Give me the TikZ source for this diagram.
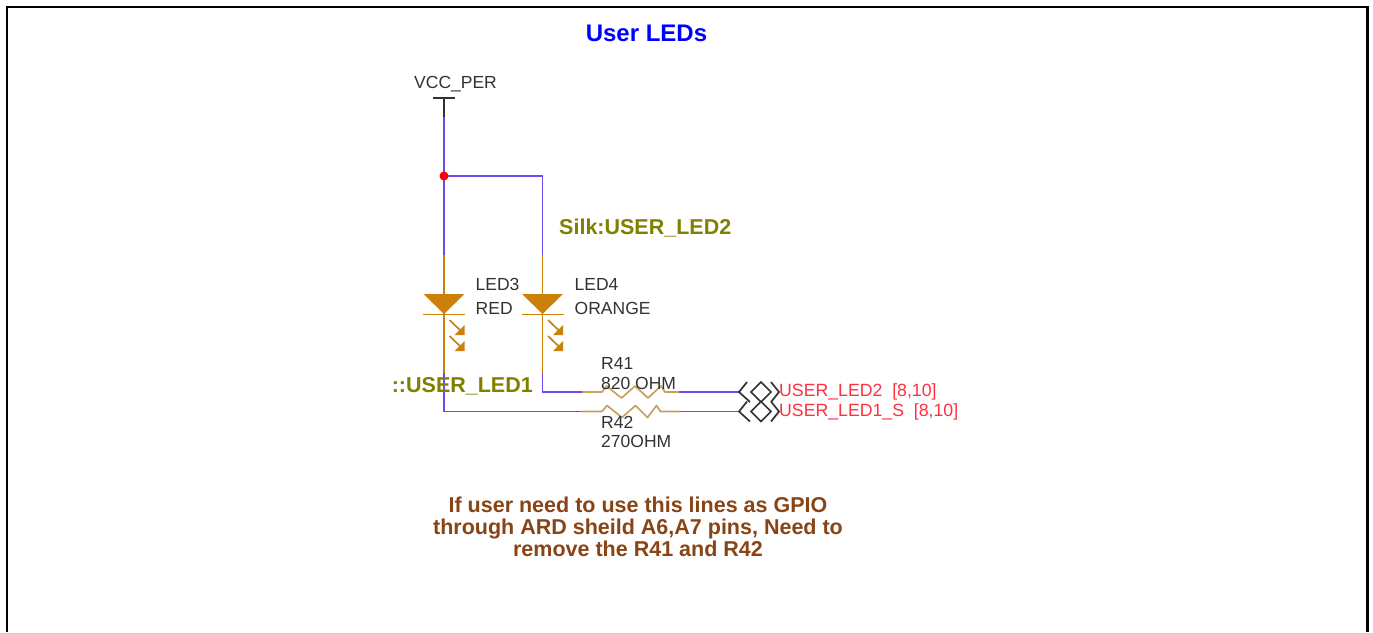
\documentclass[tikz,border=0pt]{standalone}
\usepackage{fontspec}
\setmainfont{Liberation Sans}
\usetikzlibrary{calc}

\definecolor{wirecol}{RGB}{112,72,240}
\definecolor{ledcol}{RGB}{204,128,10}
\definecolor{pincol}{RGB}{200,160,96}
\definecolor{silkcol}{RGB}{128,128,0}
\definecolor{netcol}{RGB}{255,48,64}
\definecolor{notecol}{RGB}{136,68,20}
\definecolor{partcol}{RGB}{50,50,50}

\tikzset{
  wire/.style={wirecol, line width=1.7pt},
  pinwire/.style={ledcol, line width=1.7pt},
  respin/.style={pincol, line width=1.7pt, line join=round},
  offpage/.style={partcol, line width=1.7pt},
  partlabel/.style={font=\fontsize{17.5}{19}\selectfont, text=partcol, inner sep=0pt, anchor=west},
  silklabel/.style={font=\bfseries\fontsize{21.5}{24}\selectfont, text=silkcol, inner sep=0pt, anchor=west},
  netlabel/.style={font=\fontsize{17.7}{19}\selectfont, text=netcol, inner sep=0pt, anchor=west},
  notelabel/.style={font=\bfseries\fontsize{21.5}{22}\selectfont, text=notecol, inner sep=0pt, align=center},
}

\begin{document}
\begin{tikzpicture}[x=1pt, y=-1pt]

% Page size and open frame
\useasboundingbox (0,0) rectangle (1373,632);
\coordinate (FrameBL) at (7,632);
\coordinate (FrameTL) at (7,7);
\coordinate (FrameTR) at (1367.5,7);
\coordinate (FrameBR) at (1367.5,632);
\draw[line width=2.5pt] (FrameBL) -- (FrameTL) -- (FrameTR) -- (FrameBR);

% Define wire points
\coordinate (VccBar) at (444,98);
\coordinate (VccEnd) at (444,117);
\coordinate (Junction) at (444,176);
\coordinate (JunctionR) at (542.5,176);
\coordinate (LedATop) at (444,255);
\coordinate (LedBTop) at (542.5,255);
\coordinate (LedAEnd) at (444,373);
\coordinate (LedBEnd) at (542.5,373);
\coordinate (CornerA) at (444,411.5);
\coordinate (CornerB) at (542.5,392);
\coordinate (ResAL) at (582,411.5);
\coordinate (ResBL) at (582,392);
\coordinate (ResAR) at (679,411.5);
\coordinate (ResBR) at (679,392);
\coordinate (PortA) at (739,411.5);
\coordinate (PortB) at (739,392);

% Supply symbol
\draw[offpage] (VccBar) -- (VccEnd);
\draw[offpage] ($(VccBar)+(-11,0)$) -- ($(VccBar)+(11,0)$);
\node[partlabel] (VccLabel) at (414,84.5) {VCC\_PER};

% Wires
\draw[wire] (VccEnd) -- (Junction) -- (LedATop);
\draw[wire] (Junction) -- (JunctionR) -- (LedBTop);
\draw[wire] (LedAEnd) -- (CornerA) -- (ResAL);
\draw[wire] (LedBEnd) -- (CornerB) -- (ResBL);
\draw[wire] (ResAR) -- (PortA);
\draw[wire] (ResBR) -- (PortB);
\fill[red] (Junction) circle (4.5);

% LEDs
\foreach \ledname/\ledtop/\ledend in {A/LedATop/LedAEnd, B/LedBTop/LedBEnd} {
  \draw[pinwire] (\ledtop) -- (\ledend);
  \fill[ledcol] ($(\ledtop)+(-20.5,39)$) -- ($(\ledtop)+(20.5,39)$) -- ($(\ledtop)+(0,59)$) -- cycle;
  \draw[pinwire] ($(\ledtop)+(-21,59.5)$) -- ($(\ledtop)+(21,59.5)$);
  \foreach \dy in {65,81} {
    \draw[pinwire] ($(\ledtop)+(5.5,\dy)$) -- ($(\ledtop)+(19,\dy+13)$);
    \fill[ledcol] ($(\ledtop)+(20.5,\dy+15)$) -- ($(\ledtop)+(20.5,\dy+5)$) -- ($(\ledtop)+(10.5,\dy+15)$) -- cycle;
  }
}

% Resistors
\draw[respin] (ResBL) -- ++(20,0) -- ++(4.5,-6) -- ++(15,12) -- ++(13.5,-12) -- ++(13,12) -- ++(13,-12) -- ++(4,6) -- (ResBR);
\draw[respin] (ResAL) -- ++(20,0) -- ++(5,-6) -- ++(15,12) -- ++(13.5,-12) -- ++(12,12) -- ++(9,-12) -- ++(4,6) -- (ResAR);

% Off-page connectors
\foreach \port in {PortA, PortB} {
  \draw[offpage] ($(\port)+(8,-10)$) -- (\port) -- ($(\port)+(11,10)$);
  \draw[offpage] ($(\port)+(22,-10)$) -- ($(\port)+(32,0)$) -- ($(\port)+(22,10)$) -- ($(\port)+(12,0)$) -- cycle;
  \draw[offpage] ($(\port)+(32,-10)$) -- ($(\port)+(40,0)$) -- ($(\port)+(32,10)$);
}

% Part labels
\node[partlabel] (LedANum) at (475.5,284.5) {LED3};
\node[partlabel] (LedAVal) at (475.5,308.5) {RED};
\node[partlabel] (LedBNum) at (574.5,284.5) {LED4};
\node[partlabel] (LedBVal) at (574.5,308.5) {ORANGE};
\node[partlabel] (ResBNum) at (601,363) {R41};
\node[partlabel] (ResBVal) at (601,383) {820 OHM};
\node[partlabel] (ResANum) at (601,422.5) {R42};
\node[partlabel] (ResAVal) at (601,441.5) {270OHM};

% Net labels
\node[netlabel] (NetB) at (779,391.5) {USER\_LED2\ \ [8,10]};
\node[netlabel] (NetA) at (779,411.5) {USER\_LED1\_S\ \ [8,10]};

% Silk labels
\node[silklabel] (SilkB) at (559,228.5) {Silk:USER\_LED2};
\node[silklabel, anchor=east] (SilkA) at (533,386.5) {::USER\_LED1};

% Title and note
\node[font=\bfseries\fontsize{24}{26}\selectfont, text=blue, inner sep=0pt] (Title) at (646.5,33.5) {User LEDs};
\node[notelabel] (Note) at (638,526.5) {If user need to use this lines as GPIO\\through ARD sheild A6,A7 pins, Need to\\remove the R41 and R42};

\end{tikzpicture}
\end{document}
